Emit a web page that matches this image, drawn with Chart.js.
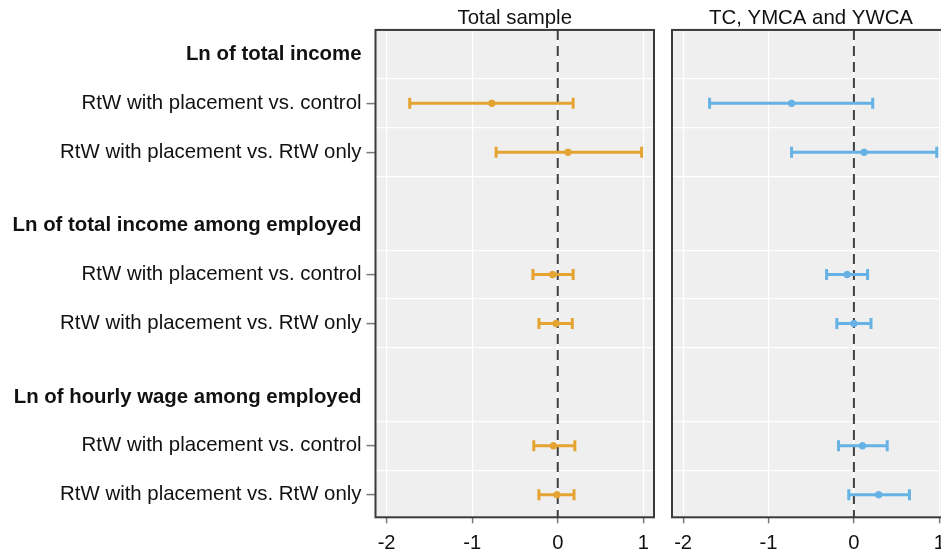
<!DOCTYPE html>
<html>
<head>
<meta charset="utf-8">
<script src="https://cdn.jsdelivr.net/npm/chart.js@4.4.1/dist/chart.umd.min.js"></script>
<style>
  html, body { margin: 0; padding: 0; background: #fff; overflow: hidden; }
  #wrap { position: relative; width: 941px; height: 550px; overflow: hidden; background: #fff; }
  #left { position: absolute; left: 0; top: 0; }
  #right { position: absolute; left: 660px; top: 0; }
</style>
</head>
<body>
<div id="wrap">
  <canvas id="left" width="660" height="550"></canvas>
  <canvas id="right" width="300" height="550"></canvas>
</div>
<script>
// row labels (bold ones are section headers) and their y positions
const rowLabels = [
  "Ln of total income",
  "RtW with placement vs. control",
  "RtW with placement vs. RtW only",
  "Ln of total income among employed",
  "RtW with placement vs. control",
  "RtW with placement vs. RtW only",
  "Ln of hourly wage among employed",
  "RtW with placement vs. control",
  "RtW with placement vs. RtW only",
];
const rowPos = [0, 1, 2, 3.5, 4.5, 5.5, 7, 8, 9];
const headerPos = [0, 3.5, 7];
const coefPos = [1, 2, 4.5, 5.5, 8, 9];
const sepPos = [0.5, 1.5, 2.5, 4, 5, 6, 7.5, 8.5];

const panelTitles = ["Total sample", "TC, YMCA and YWCA"];
const xTicks = [-2, -1, 0, 1];
const refLine = 0;

// Total sample: point estimates and confidence bounds
const totalEst = [-0.77, 0.12, -0.06, -0.02, -0.05, -0.01];
const totalLo  = [-1.73, -0.72, -0.29, -0.22, -0.28, -0.22];
const totalHi  = [0.18, 0.98, 0.18, 0.17, 0.20, 0.19];

// TC, YMCA and YWCA
const tcEst = [-0.73, 0.12, -0.08, 0.00, 0.10, 0.29];
const tcLo  = [-1.69, -0.73, -0.32, -0.20, -0.18, -0.06];
const tcHi  = [0.22, 0.97, 0.16, 0.20, 0.39, 0.65];

const xMin = -2.13, xMax = 1.125;
const yMin = -0.5, yMax = 9.46;

const FONT = "'Liberation Sans', Arial, Helvetica, sans-serif";

const panelFrame = {
  id: "panelFrame",
  beforeDraw(chart) {
    const { ctx, chartArea: a } = chart;
    ctx.save();
    ctx.fillStyle = "#efefef";
    ctx.fillRect(a.left, a.top, a.right - a.left, a.bottom - a.top);
    ctx.restore();
  },
  afterDraw(chart) {
    const { ctx, chartArea: a } = chart;
    ctx.save();
    ctx.strokeStyle = "#3a3a3a";
    ctx.lineWidth = 2;
    ctx.strokeRect(a.left, a.top, a.right - a.left, a.bottom - a.top);
    ctx.restore();
  },
};

function makePanel(id, title, est, lo, hi, color, showLabels, areaLeft, padRight) {
  const ciSets = coefPos.map((y, i) => ({
    data: [{ x: lo[i], y }, { x: est[i], y }, { x: hi[i], y }],
    showLine: true,
    borderColor: color,
    borderWidth: 3,
    pointStyle: ["line", "circle", "line"],
    pointRotation: [90, 0, 90],
    pointRadius: [5.5, 3.3, 5.5],
    pointBorderWidth: [3, 1, 3],
    pointBackgroundColor: color,
    pointBorderColor: color,
    order: 0,
  }));

  const zeroLine = {
    data: [{ x: refLine, y: yMin }, { x: refLine, y: yMax }],
    showLine: true,
    borderColor: "#3f3f3f",
    borderWidth: 2,
    borderDash: [10, 6],
    pointRadius: 0,
    order: 1,
  };

  return new Chart(document.getElementById(id), {
    type: "scatter",
    data: { datasets: [zeroLine, ...ciSets] },
    options: {
      responsive: false,
      animation: false,
      layout: { autoPadding: false, padding: { left: 0, right: padRight, top: 0, bottom: 0 } },
      plugins: {
        legend: { display: false },
        tooltip: { enabled: false },
        title: {
          display: true,
          text: title,
          fullSize: false,
          color: "#111",
          font: { family: FONT, size: 20.4, weight: "normal", lineHeight: 1.1 },
          padding: { top: 7.5, bottom: 0 },
        },
      },
      scales: {
        x: {
          type: "linear",
          min: xMin,
          max: xMax,
          afterBuildTicks: (s) => { s.ticks = xTicks.map((v) => ({ value: v })); },
          afterFit: (s) => {
            s.height = 32.7;
            s.paddingLeft = 0;
            s.paddingRight = 0;
          },
          border: { display: false },
          grid: { color: "#ffffff", lineWidth: 1.2, tickLength: 6, tickWidth: 1.5, tickColor: "#7a7a7a" },
          ticks: {
            autoSkip: false,
            maxRotation: 0,
            padding: 8,
            color: "#111",
            font: { family: FONT, size: 20.2 },
            callback: (v) => String(v),
          },
        },
        y: {
          type: "linear",
          reverse: true,
          min: yMin,
          max: yMax,
          afterBuildTicks: (s) => {
            s.ticks = [...rowPos, ...sepPos].sort((a, b) => a - b).map((v) => ({ value: v }));
          },
          afterFit: (s) => {
            s.width = areaLeft;
            s.paddingTop = 0;
            s.paddingBottom = 0;
          },
          border: { display: false },
          grid: {
            color: (ctx) => (sepPos.includes(ctx.tick && ctx.tick.value) ? "#ffffff" : "rgba(0,0,0,0)"),
            lineWidth: 1.2,
            drawTicks: showLabels,
            tickLength: 9,
            tickWidth: 1.5,
            tickColor: (ctx) => (coefPos.includes(ctx.tick && ctx.tick.value) ? "#7a7a7a" : "rgba(0,0,0,0)"),
          },
          ticks: {
            display: showLabels,
            autoSkip: false,
            padding: 5,
            color: "#111",
            font: (ctx) => ({
              family: FONT,
              size: 20.4,
              weight: headerPos.includes(ctx.tick && ctx.tick.value) ? "bold" : "normal",
            }),
            callback: (v) => {
              const k = rowPos.indexOf(v);
              return k < 0 ? "" : rowLabels[k];
            },
          },
        },
      },
    },
    plugins: [panelFrame],
  });
}

makePanel("left", panelTitles[0], totalEst, totalLo, totalHi, "rgb(229,163,50)", true, 375.5, 6);
makePanel("right", panelTitles[1], tcEst, tcLo, tcHi, "rgb(102,178,228)", false, 12, 10);
</script>
</body>
</html>
